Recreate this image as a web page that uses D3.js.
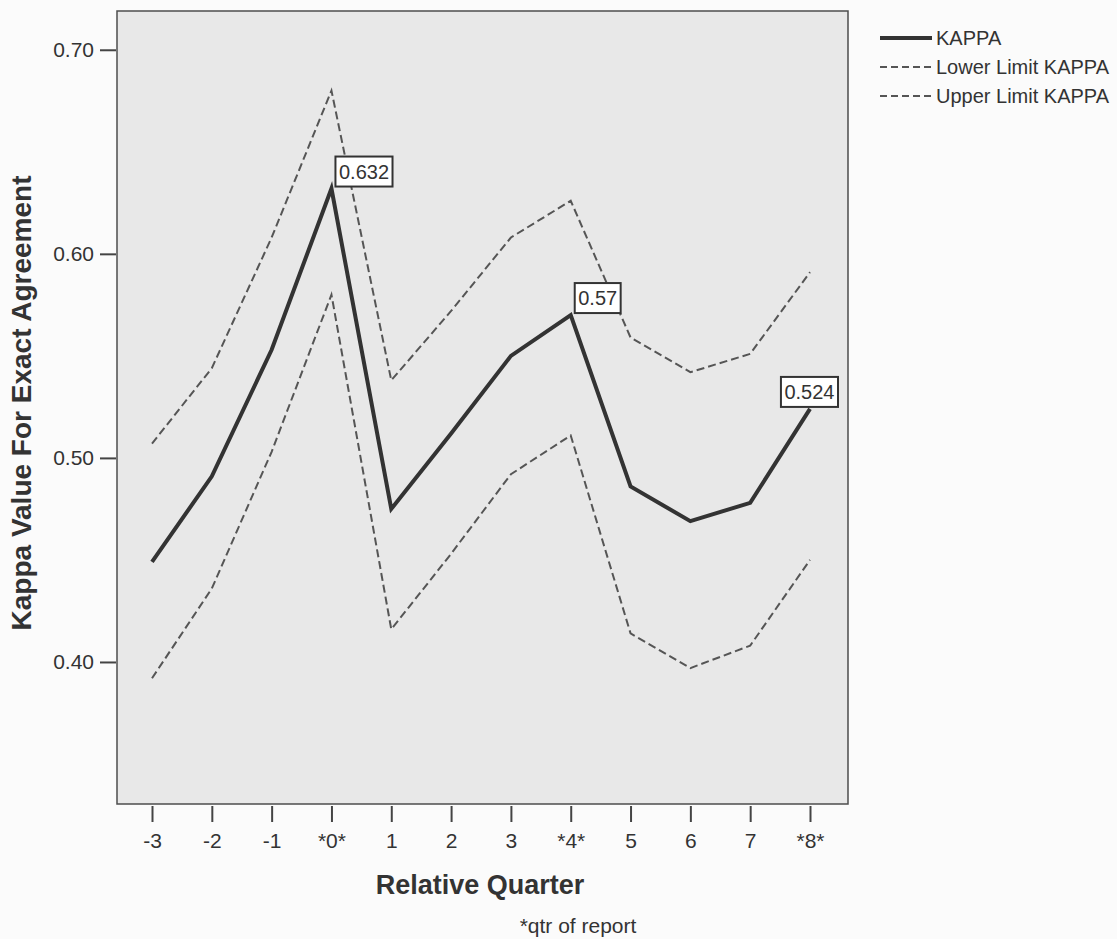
<!DOCTYPE html>
<html>
<head>
<meta charset="utf-8">
<script src="https://cdn.jsdelivr.net/npm/d3@7"></script>
<style>
  body { margin: 0; background: #fbfbfb; }
  svg text { font-family: "Liberation Sans", Arial, Helvetica, sans-serif; fill: #333; }
</style>
</head>
<body>
<div id="chart"></div>
<script>
// valores
const quarters = ["-3", "-2", "-1", "*0*", "1", "2", "3", "*4*", "5", "6", "7", "*8*"];
const kappa = [0.449, 0.491, 0.553, 0.632, 0.475, 0.512, 0.550, 0.570, 0.486, 0.469, 0.478, 0.524];
const lowerLimit = [0.392, 0.436, 0.503, 0.580, 0.416, 0.453, 0.492, 0.511, 0.414, 0.397, 0.408, 0.450];
const upperLimit = [0.507, 0.544, 0.608, 0.680, 0.538, 0.572, 0.608, 0.626, 0.559, 0.542, 0.551, 0.591];
const yTicks = [0.40, 0.50, 0.60, 0.70];
const labeledQuarters = ["*0*", "*4*", "*8*"];
const legendItems = ["KAPPA", "Lower Limit KAPPA", "Upper Limit KAPPA"];

const width = 1117, height = 939;
const plot = { left: 117, top: 11, right: 848, bottom: 804 };

const svg = d3.select("#chart").append("svg")
    .attr("width", width).attr("height", height);

const x = d3.scalePoint()
    .domain(quarters)
    .range([plot.left + 35, plot.right - 38]);

const y = d3.scaleLinear()
    .domain([0.3304, 0.719])
    .range([plot.bottom, plot.top]);

// fundo da área do gráfico
svg.append("rect")
    .attr("x", plot.left).attr("y", plot.top)
    .attr("width", plot.right - plot.left).attr("height", plot.bottom - plot.top)
    .attr("fill", "#e8e8e8")
    .attr("stroke", "#4d4d4d").attr("stroke-width", 1.5);

// eixo Y
const yAxis = d3.axisLeft(y).tickValues(yTicks).tickFormat(d3.format(".2f")).tickSize(16).tickPadding(6);
const gy = svg.append("g").attr("transform", `translate(${plot.left - 1},0)`).call(yAxis);
gy.select(".domain").remove();
gy.selectAll("line").attr("stroke", "#444").attr("stroke-width", 2);
gy.selectAll("text").style("font-size", "21px").attr("fill", "#333")
    .style("font-family", '"Liberation Sans", Arial, sans-serif');

// eixo X
const xAxis = d3.axisBottom(x).tickSize(16).tickPadding(11);
const gx = svg.append("g").attr("transform", `translate(0,${plot.bottom + 2})`).call(xAxis);
gx.select(".domain").remove();
gx.selectAll("line").attr("stroke", "#444").attr("stroke-width", 2);
gx.selectAll("text").style("font-size", "21px").attr("fill", "#333")
    .style("font-family", '"Liberation Sans", Arial, sans-serif');

// títulos
svg.append("text")
    .attr("x", 480).attr("y", 894)
    .attr("text-anchor", "middle")
    .style("font-size", "27px").style("font-weight", "bold")
    .text("Relative Quarter");

svg.append("text")
    .attr("x", 578).attr("y", 933)
    .attr("text-anchor", "middle")
    .style("font-size", "21px")
    .text("*qtr of report");

svg.append("text")
    .attr("transform", "translate(31,403) rotate(-90)")
    .attr("text-anchor", "middle")
    .style("font-size", "28px").style("font-weight", "bold")
    .text("Kappa Value For Exact Agreement");

// linhas
const line = d3.line()
    .x((d, i) => x(quarters[i]))
    .y(d => y(d));

function desenharLinha(valores, tracejado) {
    svg.append("path")
        .datum(valores)
        .attr("d", line)
        .attr("fill", "none")
        .attr("stroke", tracejado ? "#555" : "#333")
        .attr("stroke-width", tracejado ? 2 : 4)
        .attr("stroke-dasharray", tracejado ? "8,4" : null)
        .attr("stroke-linejoin", "miter");
}

desenharLinha(lowerLimit, true);
desenharLinha(upperLimit, true);
desenharLinha(kappa, false);

// rótulos com caixa
labeledQuarters.forEach(q => {
    const i = quarters.indexOf(q);
    const v = kappa[i];
    const px = x(q), py = y(v);
    const txt = d3.format(".3~f")(v);
    const g = svg.append("g");
    const t = g.append("text")
        .style("font-size", "20px")
        .attr("fill", "#2a2a2a")
        .text(txt);
    const w = t.node().getComputedTextLength() + 7;
    const h = 30;
    let bx = px + 4;
    if (bx + w > plot.right - 10) bx = plot.right - 10 - w;
    const by = py - 2 - h;
    g.insert("rect", "text")
        .attr("x", bx).attr("y", by)
        .attr("width", w).attr("height", h)
        .attr("fill", "#fff")
        .attr("stroke", "#333").attr("stroke-width", 2);
    t.attr("x", bx + 3.5).attr("y", by + h / 2 + 7);
});

// legenda
const legend = svg.append("g").attr("transform", "translate(880,38)");
legendItems.forEach((nome, i) => {
    const row = legend.append("g").attr("transform", `translate(0,${i * 29})`);
    row.append("line")
        .attr("x1", 0).attr("x2", 52)
        .attr("y1", 0).attr("y2", 0)
        .attr("stroke", i === 0 ? "#333" : "#555")
        .attr("stroke-width", i === 0 ? 4 : 2)
        .attr("stroke-dasharray", i === 0 ? null : "7,4");
    row.append("text")
        .attr("x", 56).attr("y", 7)
        .style("font-size", "20px")
        .text(nome);
});
</script>
</body>
</html>
